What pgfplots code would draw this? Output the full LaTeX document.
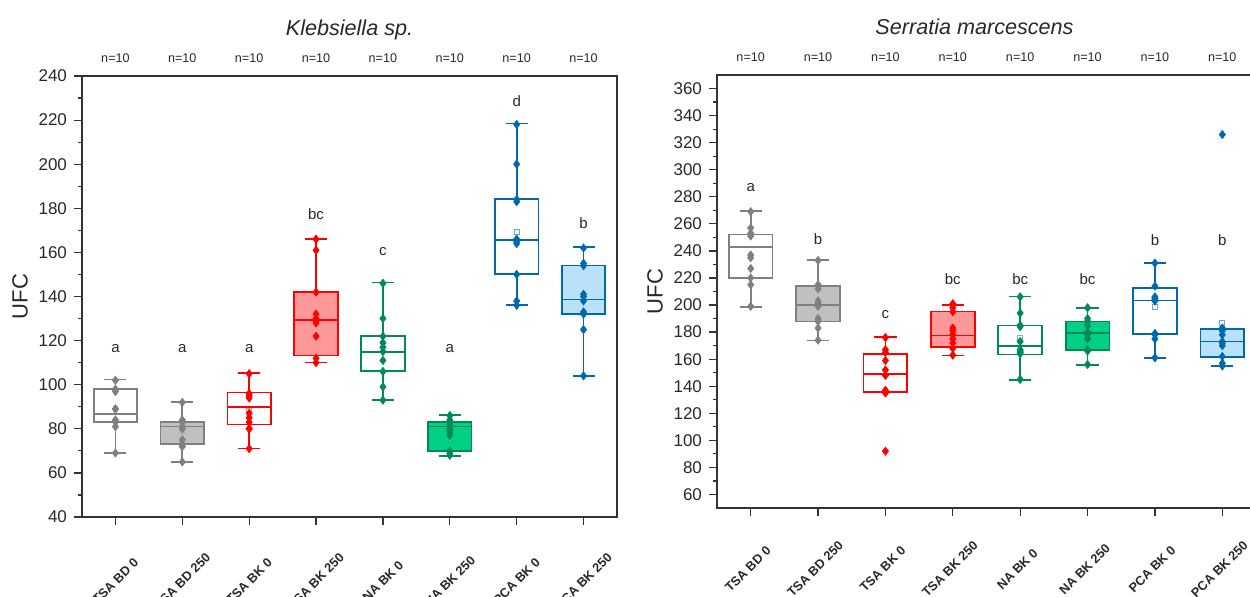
\documentclass[border=0pt]{standalone}
\usepackage{fontspec}
\setmainfont{Liberation Sans}
\usepackage{pgfplots}
\pgfplotsset{compat=1.18}

\definecolor{grayln}{RGB}{128,128,128}
\definecolor{grayfill}{RGB}{192,192,192}
\definecolor{graymean}{RGB}{175,175,175}
\definecolor{redln}{RGB}{255,0,0}
\definecolor{redfill}{RGB}{255,153,153}
\definecolor{redmean}{RGB}{255,140,140}
\definecolor{greenln}{RGB}{0,138,90}
\definecolor{greenfill}{RGB}{0,208,132}
\definecolor{greenmean}{RGB}{110,190,160}
\definecolor{blueln}{RGB}{0,104,172}
\definecolor{bluefill}{RGB}{185,225,250}
\definecolor{bluemean}{RGB}{110,165,215}
\definecolor{txt}{RGB}{40,40,40}

\tikzset{
  lett/.style={font=\fontsize{7.5}{8}\selectfont, text=txt},
  nlab/.style={font=\fontsize{6.3}{7}\selectfont, text=txt},
}

\pgfplotsset{
  panel/.style={
    scale only axis, clip=false,
    xmin=-0.5, xmax=7.5,
    xtick={0,...,7},
    xticklabels={TSA BD 0,TSA BD 250,TSA BK 0,TSA BK 250,NA BK 0,NA BK 250,PCA BK 0,PCA BK 250},
    xticklabel style={font=\fontsize{6.4}{7}\selectfont\bfseries, text=txt, anchor=center, yshift=-28pt, rotate=45},
    yticklabel style={font=\fontsize{8.5}{10}\selectfont, text=txt},
    /pgf/number format/assume math mode=true,
    xtick pos=left, ytick pos=left, tick align=outside,
    major tick length=4pt, minor tick length=2pt,
    minor y tick num=1,
    axis line style={line width=0.7pt, draw=black!80},
    every tick/.style={line width=0.6pt, black!80},
    ylabel={UFC},
    ylabel style={font=\fontsize{11}{12}\selectfont, text=txt, at={(axis description cs:0,0.5)}, anchor=center, yshift=31pt},
    title style={font=\fontsize{10.8}{12}\selectfont\itshape, text=txt, at={(axis description cs:0.5,1)}, anchor=south, yshift=8.5pt},
  },
  pts/.style={only marks, mark=diamond*, mark size=2pt},
  mn/.style={only marks, mark=square, mark size=1.2pt, mark options={line width=0.5pt}},
}

% box: #1 position, #2 lower whisker, #3 Q1, #4 median, #5 Q3, #6 upper whisker, #7 line colour, #8 fill
\newcommand{\bxp}[8]{%
  \addplot[draw=#7, fill=#8, line width=0.85pt, x filter/.expression={x+#1}]
    coordinates {(-0.325,#3) (0.325,#3) (0.325,#5) (-0.325,#5)} --cycle;
  \addplot[draw=#7, line width=0.85pt, unbounded coords=jump, x filter/.expression={x+#1}]
    coordinates {(-0.165,#2) (0.165,#2) (nan,nan) (0,#2) (0,#3) (nan,nan) (0,#5) (0,#6) (nan,nan)
                 (-0.165,#6) (0.165,#6) (nan,nan) (-0.325,#4) (0.325,#4)};
}

\begin{document}
\begin{tikzpicture}

% ---------------- Klebsiella sp. ----------------
\begin{axis}[panel, at={(41pt,39.5pt)}, anchor=south west,
  width=267.5pt, height=220.5pt,
  ymin=40, ymax=240, ytick={40,60,...,240},
  title={Klebsiella sp.}]

\bxp{0}{68.9}{83.2}{86.7}{98.2}{102.4}{grayln}{white}
\addplot[mn, graymean] coordinates {(0,88.9)};
\addplot[pts, grayln] coordinates {(0,102) (0,98) (0,97) (0,97) (0,89) (0,89) (0,84) (0,83) (0,81) (0,69)};

\bxp{1}{65.1}{73}{81}{83.2}{92.3}{grayln}{grayfill}
\addplot[mn, graymean] coordinates {(1,79)};
\addplot[pts, grayln] coordinates {(1,92) (1,84) (1,83) (1,81) (1,80) (1,75) (1,73) (1,72) (1,72) (1,65)};

\bxp{2}{71.1}{82}{90}{96.4}{105.2}{redln}{white}
\addplot[mn, redmean] coordinates {(2,88)};
\addplot[pts, redln] coordinates {(2,105) (2,96) (2,95) (2,94) (2,87) (2,85) (2,83) (2,80) (2,80) (2,71)};

\bxp{3}{110.1}{113.2}{129.3}{142.2}{166.2}{redln}{redfill}
\addplot[pts, redln] coordinates {(3,166) (3,161) (3,142) (3,132) (3,130) (3,129) (3,128) (3,122) (3,112) (3,110)};

\bxp{4}{93.1}{106.2}{114.7}{122.1}{146.3}{greenln}{white}
\addplot[pts, greenln] coordinates {(4,146) (4,130) (4,122) (4,119) (4,117) (4,115) (4,111) (4,106) (4,99) (4,93)};

\bxp{5}{67.7}{69.9}{81}{83.2}{86.3}{greenln}{greenfill}
\addplot[pts, greenln] coordinates {(5,86) (5,84) (5,82) (5,80) (5,79) (5,78) (5,77) (5,70) (5,69) (5,68)};

\bxp{6}{136.1}{150.2}{165.6}{184.1}{218.5}{blueln}{white}
\addplot[mn, bluemean] coordinates {(6,169.4)};
\addplot[pts, blueln] coordinates {(6,218) (6,200) (6,184) (6,183) (6,166) (6,165) (6,164) (6,150) (6,138) (6,136)};

\bxp{7}{104.1}{132.1}{138.7}{154}{162.3}{blueln}{bluefill}
\addplot[pts, blueln] coordinates {(7,162) (7,155) (7,154) (7,141) (7,140) (7,138) (7,133) (7,132) (7,125) (7,104)};

\node[lett] at (axis cs:0,116.5) {a};
\node[lett] at (axis cs:1,116.5) {a};
\node[lett] at (axis cs:2,116.5) {a};
\node[lett] at (axis cs:3,177.4) {bc};
\node[lett] at (axis cs:4,160.3) {c};
\node[lett] at (axis cs:5,116.4) {a};
\node[lett] at (axis cs:6,228.8) {d};
\node[lett] at (axis cs:7,173.2) {b};
\pgfplotsinvokeforeach{0,...,7}{\node[nlab, yshift=9pt] at (axis cs:#1,240) {n=10};}
\end{axis}

% ---------------- Serratia marcescens ----------------
\begin{axis}[panel, at={(358.5pt,44pt)}, anchor=south west,
  width=269.5pt, height=216.5pt,
  ymin=50, ymax=370, ytick={60,80,...,360},
  xticklabel style={yshift=2pt},
  title={Serratia marcescens},
  title style={xshift=-6pt, yshift=2pt}]

\bxp{0}{198.4}{220.1}{242.8}{252.1}{269.4}{grayln}{white}
\addplot[pts, grayln] coordinates {(0,269) (0,257) (0,253) (0,251) (0,237) (0,235) (0,227) (0,220) (0,215) (0,199)};

\bxp{1}{173.8}{187.8}{200.2}{213.9}{233.4}{grayln}{grayfill}
\addplot[pts, grayln] coordinates {(1,233) (1,215) (1,212) (1,203) (1,201) (1,199) (1,190) (1,188) (1,183) (1,174)};

\bxp{2}{135.6}{135.6}{149.2}{164}{176.3}{redln}{white}
\addplot[pts, redln] coordinates {(2,176) (2,167) (2,165) (2,159) (2,152) (2,148) (2,137) (2,136) (2,135) (2,92)};

\bxp{3}{162.7}{168.9}{177.5}{195.2}{200.2}{redln}{redfill}
\addplot[pts, redln] coordinates {(3,201) (3,198) (3,195) (3,183) (3,181) (3,178) (3,175) (3,172) (3,168) (3,163)};

\bxp{4}{144.7}{163.4}{169.6}{184.9}{206.3}{greenln}{white}
\addplot[mn, greenmean] coordinates {(4,175.5)};
\addplot[pts, greenln] coordinates {(4,206) (4,194) (4,185) (4,184) (4,173) (4,167) (4,166) (4,165) (4,164) (4,145)};

\bxp{5}{155.8}{166.9}{179.5}{187.8}{197.9}{greenln}{greenfill}
\addplot[pts, greenln] coordinates {(5,198) (5,190) (5,188) (5,185) (5,180) (5,178) (5,175) (5,167) (5,166) (5,156)};

\bxp{6}{160.7}{178.7}{203.4}{212.7}{231.2}{blueln}{white}
\addplot[mn, bluemean] coordinates {(6,198.4)};
\addplot[pts, blueln] coordinates {(6,231) (6,214) (6,206) (6,205) (6,204) (6,203) (6,179) (6,178) (6,175) (6,161)};

\bxp{7}{154.8}{161.5}{173.1}{182.2}{182.5}{blueln}{bluefill}
\addplot[mn, bluemean] coordinates {(7,186.6)};
\addplot[pts, blueln] coordinates {(7,326) (7,183) (7,181) (7,178) (7,173) (7,172) (7,170) (7,162) (7,157) (7,155)};

\node[lett] at (axis cs:0,287) {a};
\node[lett] at (axis cs:1,248.4) {b};
\node[lett] at (axis cs:2,193) {c};
\node[lett] at (axis cs:3,219.4) {bc};
\node[lett] at (axis cs:4,219.4) {bc};
\node[lett] at (axis cs:5,219.4) {bc};
\node[lett] at (axis cs:6,248) {b};
\node[lett] at (axis cs:7,248) {b};
\pgfplotsinvokeforeach{0,...,7}{\node[nlab, yshift=9pt] at (axis cs:#1,370) {n=10};}
\end{axis}

\pgfresetboundingbox
\useasboundingbox (0pt,0pt) rectangle (625pt,298pt);
\end{tikzpicture}
\end{document}
